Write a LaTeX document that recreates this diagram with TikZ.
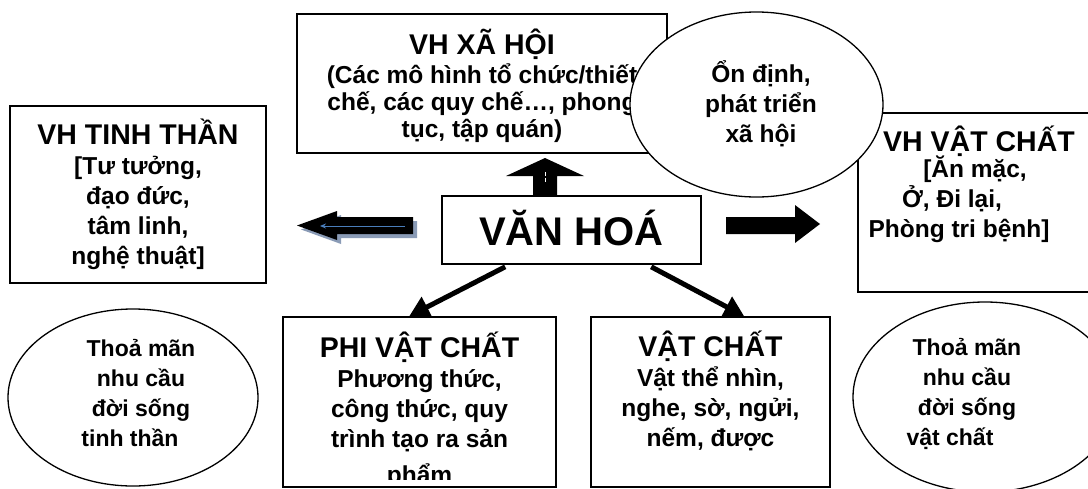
\documentclass[tikz,border=0pt]{standalone}
\usepackage{fontspec}
\setmainfont{Liberation Sans}
\usetikzlibrary{arrows.meta,calc,shapes.geometric}
\definecolor{shadowblue}{RGB}{138,155,182}
\definecolor{lineblue}{RGB}{74,126,187}
\tikzset{
  box/.style={draw, line width=1.6pt, fill=white, rectangle, inner sep=0},
  oval/.style={draw, line width=1.3pt, fill=white, ellipse, inner sep=0},
  txt/.style={inner sep=0, align=center, font=\bfseries\fontsize{24.5}{30}\selectfont},
  small/.style={inner sep=0, align=center, font=\bfseries\fontsize{23}{30}\selectfont},
  conn/.style={line width=5pt, -{Triangle[length=20pt,width=22pt]}},
  blockarrow/.style={fill=black, draw=none}
}
\newcommand{\hd}[1]{{\fontsize{28.5}{30}\selectfont #1}}
\newcommand{\trail}[1]{\rule{#1}{0pt}}
\begin{document}
\begin{tikzpicture}[x=1pt,y=-1pt]
\useasboundingbox (0,0) rectangle (1088,488);
\clip (0,0) rectangle (1088,488);

% boxes
\node[box, minimum width=256, minimum height=177] (tinh) at (138,194.5) {};
\node[box, minimum width=370, minimum height=139] (xa) at (482,83.5) {};
\node[box, minimum width=242, minimum height=179] (vatchat) at (979,202.5) {};
\node[box, minimum width=259, minimum height=68] (vh) at (571.5,230) {};
\node[box, minimum width=273, minimum height=170] (phi) at (419.5,402) {};
\node[box, minimum width=239, minimum height=170] (vc) at (710.5,402) {};

% texts in boxes
\node[txt, anchor=north] (tinhT) at (138,118.5) {\hd{VH TINH THẦN}\\{[}Tư tưởng,\\đạo đức,\\tâm linh,\\nghệ thuật{]}};
\node[txt, anchor=north, font=\bfseries\fontsize{24.5}{27}\selectfont] (xaT) at (482,29) {\hd{VH XÃ HỘI}\\[2pt](Các mô hình tổ chức/thiết\\chế, các quy chế…, phong\\tục, tập quán)};

% ellipse over the social box
\node[oval, minimum width=253, minimum height=185] (ondinh) at (756.5,104.5) {};
\node[txt, anchor=north] (ondinhT) at (761,60) {Ổn định,\\phát triển\\xã hội};

\node[txt, anchor=north] (vatchatT) at (979,125.5) {\hd{VH VẬT CHẤT}\\[-4pt]{[}Ăn mặc,\trail{8pt}\\Ở, Đi lại,\trail{54pt}\\Phòng tri bệnh{]}\trail{40pt}};

\node[anchor=base, inner sep=0, font=\bfseries\fontsize{40}{44}\selectfont] (vhT) at (571.5,245) {VĂN HOÁ};

\begin{scope}
\clip (phi.north west) rectangle ($(phi.south east)+(0,-8)$);
\node[txt, anchor=north] (phiT) at (419.5,331.5) {\hd{PHI VẬT CHẤT}\\Phương thức,\\công thức, quy\\trình tạo ra sản\\[6pt]phẩm};
\end{scope}
\node[txt, anchor=north] (vcT) at (710.5,330.5) {\hd{VẬT CHẤT}\\Vật thể nhìn,\\nghe, sờ, ngửi,\\nếm, được};

% bottom ellipses
\node[oval, minimum width=250, minimum height=177] (tm1) at (133,397.5) {};
\node[small, anchor=north] (tm1T) at (141,339) {Thoả mãn\\nhu cầu\\đời sống\\tinh thần\trail{22pt}};
\node[oval, minimum width=264, minimum height=190] (tm2) at (985,397) {};
\node[small, anchor=north] (tm2T) at (967,338) {Thoả mãn\\nhu cầu\\đời sống\\vật chất\trail{34pt}};

% block arrows
\fill[shadowblue] (417,221) -- (341,221) -- (341,215) -- (301,229.5) -- (341,244) -- (341,238) -- (417,238) -- cycle;
\fill[black] (413,217) -- (337,217) -- (337,211) -- (297,225.5) -- (337,240) -- (337,234) -- (413,234) -- cycle;
\draw[lineblue, line width=1pt, -{Stealth[length=6pt,width=5pt]}] (405,226) -- (320,226);

\fill[black] (533,196) -- (533,176) -- (506,176) -- (545,158) -- (584,176) -- (557,176) -- (557,196) -- cycle;
\draw[white, line width=0.8pt] (545,172) -- (545,176) (545,178) -- (545,182);

\fill[black] (726,217) -- (795,217) -- (795,205) -- (820,224) -- (795,243) -- (795,234) -- (726,234) -- cycle;

% connectors
\draw[conn] ($(vh.south west)+(64,2)$) -- ($(phi.north west)+(127,0)$);
\draw[conn] ($(vh.south west)+(210,2)$) -- ($(vc.north west)+(154,0)$);
\end{tikzpicture}
\end{document}
